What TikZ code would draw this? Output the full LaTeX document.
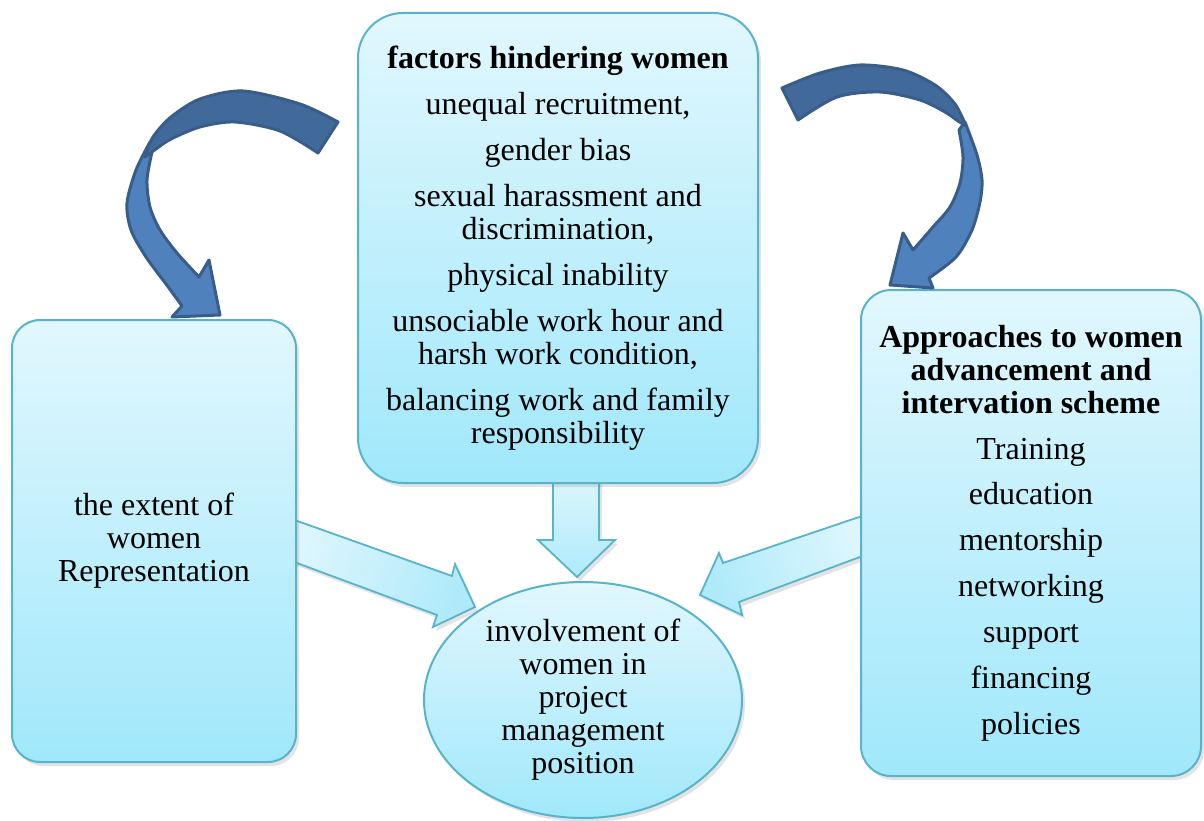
\documentclass[tikz,border=0pt]{standalone}
\usepackage{fontspec}
\setmainfont{Liberation Serif}
\usetikzlibrary{shapes.geometric,shadows}

\definecolor{paneltop}{HTML}{E1F7FD}
\definecolor{panelbot}{HTML}{A0E8FB}
\definecolor{panelline}{HTML}{57B4CC}
\definecolor{flowlight}{HTML}{DDF6FD}
\definecolor{flowdeep}{HTML}{AEEAFA}
\definecolor{bendfront}{HTML}{4F81BD}
\definecolor{bendback}{HTML}{41699A}
\definecolor{bendline}{HTML}{385D8A}

\tikzset{
  softshadow/.style={drop shadow={opacity=0.22, shadow xshift=3pt, shadow yshift=-4pt}},
  panel/.style={draw=panelline, line width=2pt, top color=paneltop, bottom color=panelbot,
    rounded corners=#1, softshadow, align=center, inner sep=0pt,
    font=\fontsize{32}{33}\selectfont},
  oval/.style={ellipse, draw=panelline, line width=2pt, top color=paneltop, bottom color=panelbot,
    softshadow, align=center, inner sep=0pt, font=\fontsize{32}{33}\selectfont},
  flowarrow/.style={draw=panelline, line width=1.8pt, line join=miter, softshadow,
    left color=flowlight, right color=flowdeep, shading angle=#1},
  bendarrow/.style={draw=bendline, line width=3pt, line join=round, fill=bendfront},
  bendtwist/.style={bendarrow, fill=bendback}
}

\begin{document}
\begin{tikzpicture}[x=1pt, y=-1pt]
\useasboundingbox (0,0) rectangle (1204,821);

% central goal
\node[oval, minimum width=318pt, minimum height=236pt] (goal) at (583,700)
  {involvement of\\ women in\\ project\\ management\\ position};

% wide arrows feeding the central goal
\filldraw[flowarrow=70] (286,517) -- (452,576) -- (455,564) -- (475,607)
  -- (433,627) -- (437,615) -- (286,559) -- cycle;
\filldraw[flowarrow=-70] (868,514) -- (723,563) -- (719,553) -- (700,595)
  -- (742,615) -- (739,602) -- (868,554) -- cycle;
\filldraw[flowarrow=0] (553,476) -- (553,540) -- (538,540) -- (577,577)
  -- (615,540) -- (599,540) -- (599,476) -- cycle;

% factors box
\node[panel=45pt, minimum width=400pt, minimum height=470pt] (factors) at (558,248)
  {\textbf{factors hindering women}\\[13pt]
   unequal recruitment,\\[13pt]
   gender bias\\[13pt]
   sexual harassment and\\ discrimination,\\[13pt]
   physical inability\\[13pt]
   unsociable work hour and\\ harsh work condition,\\[13pt]
   balancing work and family\\ responsibility};

% representation box
\node[panel=28pt, minimum width=284pt, minimum height=442pt] (extent) at (154,541)
  {the extent of\\ women\\ Representation};

% approaches box
\node[panel=30pt, minimum width=340pt, minimum height=486pt] (approach) at (1031,533)
  {\textbf{Approaches to women}\\ \textbf{advancement and}\\ \textbf{intervation scheme}\\[13pt]
   Training\\[12pt] education\\[13pt] mentorship\\[13pt] networking\\[13pt]
   support\\[13pt] financing\\[13pt] policies};

% curved arrow towards the representation box
\filldraw[bendarrow] (150,142) -- plot[smooth] coordinates
  {(150,142) (136,170) (127,203) (131,230) (146,257) (166,284) (182,306)}
  -- (172,317) -- (220,315) -- (209,260) -- (199,277) -- plot[smooth] coordinates
  {(199,277) (177,253) (160,230) (150,207) (147,180) (152,152)} -- cycle;
\filldraw[bendtwist] (338,122) -- plot[smooth] coordinates
  {(338,122) (300,104) (243,91) (200,99) (171,117) (153,137) (145,157)}
  -- plot[smooth] coordinates
  {(145,157) (156,149) (171,139) (200,127) (235,122) (280,131) (318,153)} -- cycle;

% curved arrow towards the approaches box
\filldraw[bendarrow] (965,122) -- plot[smooth] coordinates
  {(965,122) (977,155) (982,180) (980,202) (972,230) (956,257) (929,278)}
  -- (933,288) -- (890,285) -- (903,233) -- (913,250) -- plot[smooth] coordinates
  {(913,250) (933,227) (950,207) (960,183) (963,157) (959,130)} -- cycle;
\filldraw[bendtwist] (782,88) -- plot[smooth] coordinates
  {(782,88) (820,73) (860,65) (903,70) (935,85) (955,104) (966,126)}
  -- plot[smooth] coordinates
  {(966,126) (958,121) (945,112) (920,100) (880,92) (837,97) (798,120)} -- cycle;
\end{tikzpicture}
\end{document}
